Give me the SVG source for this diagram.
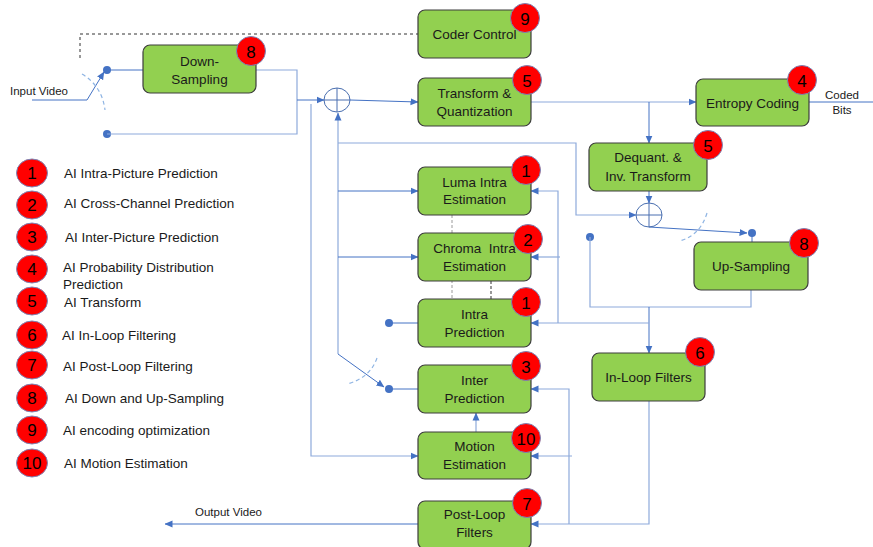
<svg xmlns="http://www.w3.org/2000/svg" width="873" height="547" viewBox="0 0 873 547">
<defs>
<marker id="arr" markerUnits="userSpaceOnUse" markerWidth="8" markerHeight="8" viewBox="0 0 8 8" refX="7.5" refY="4" orient="auto">
<path d="M0,0.5 L8,4 L0,7.5 Z" fill="#4472C4"/>
</marker>
</defs>
<style>
.box{fill:#92D050;stroke:#3d3d3d;stroke-width:1.2}
.badge{fill:#FF0000;stroke:#7a86b8;stroke-width:1}
.bt{font-family:"Liberation Sans",Arial,sans-serif;font-size:17px;fill:#000;text-anchor:middle}
.t{font-family:"Liberation Sans",Arial,sans-serif;font-size:13.5px;fill:#1a1a1a;text-anchor:middle}
.lg{font-family:"Liberation Sans",Arial,sans-serif;font-size:13.5px;fill:#1a1a1a}
.sm{font-family:"Liberation Sans",Arial,sans-serif;font-size:11.5px;fill:#1a1a1a}
.c{fill:none;stroke:#4472C4;stroke-width:1}
.cl{fill:none;stroke:#8eaadb;stroke-width:1.2}
.arc{fill:none;stroke:#8eb4e3;stroke-width:1.2;stroke-dasharray:4,3}
.dot{fill:#4472C4}
</style>
<rect width="873" height="547" fill="#fff"/>

<g id="connectors">
<path d="M80,58 V34 H418" fill="none" stroke="#333" stroke-width="1" stroke-dasharray="3,3"/>
<path class="c" d="M32,100 H87 L104,72" marker-end="url(#arr)"/>
<path class="arc" d="M82,74 Q102,86 105,110"/>
<circle class="dot" cx="107" cy="70" r="4"/>
<circle class="dot" cx="107" cy="134" r="4"/>
<path class="c" d="M107,70 H143"/>
<path class="cl" d="M107,134 H297 V70 H256"/>
<path class="c" d="M297,100 H324" marker-end="url(#arr)"/>
<path class="c" d="M350,100 L418,102" marker-end="url(#arr)"/>
<path class="cl" d="M338,354 V113" marker-end="url(#arr)"/>
<path class="cl" d="M338,143 H576 V215 H636" marker-end="url(#arr)"/>
<path class="c" d="M338,191 H418" marker-end="url(#arr)"/>
<path class="c" d="M338,257 H418" marker-end="url(#arr)"/>
<path class="c" d="M338,354 L384,387" marker-end="url(#arr)"/>
<path class="arc" d="M377,358 Q370,378 347,384"/>
<circle class="dot" cx="389" cy="389" r="4"/>
<path class="c" d="M389,389 H418"/>
<circle class="dot" cx="389" cy="323" r="4"/>
<path class="c" d="M389,323 H418"/>
<path class="cl" d="M311,104 V456 H418" marker-end="url(#arr)"/>
<path class="cl" d="M531,102 H696" marker-end="url(#arr)"/>
<path class="c" d="M649,102 V143" marker-end="url(#arr)"/>
<path class="c" d="M809,102 H873"/>
<path class="c" d="M649,191 V203" marker-end="url(#arr)"/>
<path class="c" d="M649,227 L747,233" marker-end="url(#arr)"/>
<path class="arc" d="M707,213 Q700,236 679,241"/>
<circle class="dot" cx="752" cy="233" r="4"/>
<path class="c" d="M752,233 V242"/>
<circle class="dot" cx="590" cy="237" r="4"/>
<path class="cl" d="M590,237 V307 H751 V290"/>
<path class="c" d="M649,307 V353" marker-end="url(#arr)"/>
<path class="cl" d="M649,323 H531" marker-end="url(#arr)"/>
<path class="cl" d="M558,323 V191 H531" marker-end="url(#arr)"/>
<path class="cl" d="M560,257 H531" marker-end="url(#arr)"/>
<path class="cl" d="M649,400 V524 H531" marker-end="url(#arr)"/>
<path class="cl" d="M569,524 V389 H531" marker-end="url(#arr)"/>
<path class="cl" d="M572,456 H531" marker-end="url(#arr)"/>
<path class="cl" d="M476,432 V413" marker-end="url(#arr)"/>
<path class="c" d="M418,524 H165" marker-end="url(#arr)"/>
</g>

<g id="adder1"><ellipse cx="337" cy="100" rx="13" ry="12" fill="none" stroke="#4a6fb0" stroke-width="1"/><path d="M324,100 H350 M337,88 V112" stroke="#4a6fb0" stroke-width="1"/></g>
<g id="adder2"><ellipse cx="649" cy="215" rx="13" ry="12" fill="none" stroke="#4a6fb0" stroke-width="1"/><path d="M636,215 H662 M649,203 V227" stroke="#4a6fb0" stroke-width="1"/></g>

<g id="texts-io">
<text class="sm" x="10" y="95">Input Video</text>
<text class="sm" x="842" y="99" text-anchor="middle">Coded</text>
<text class="sm" x="842" y="114" text-anchor="middle">Bits</text>
<text class="sm" x="195" y="516">Output Video</text>
</g>

<g id="intra-links">
<path d="M452,215 V299" stroke="#9a9a9a" stroke-width="1" stroke-dasharray="3,2"/>
<path d="M491,281 V299" stroke="#555" stroke-width="1.2" stroke-dasharray="3,2"/>
</g>

<g id="down-sampling"><rect class="box" x="143" y="45" width="113" height="48" rx="7"/><text class="t" x="199.5" y="66">Down-</text><text class="t" x="199.5" y="84">Sampling</text><circle class="badge" cx="251" cy="51" r="14.5"/><text class="bt" x="251" y="57.5">8</text></g>
<g id="coder-control"><rect class="box" x="418" y="10" width="113" height="48" rx="7"/><text class="t" x="474.5" y="39">Coder Control</text><circle class="badge" cx="525" cy="18" r="14.5"/><text class="bt" x="525" y="24.5">9</text></g>
<g id="transform"><rect class="box" x="418" y="78" width="113" height="48" rx="7"/><text class="t" x="474.5" y="98">Transform &amp;</text><text class="t" x="474.5" y="116">Quantization</text><circle class="badge" cx="527" cy="80" r="14.5"/><text class="bt" x="527" y="86.5">5</text></g>
<g id="entropy"><rect class="box" x="696" y="79" width="113" height="47" rx="7"/><text class="t" x="752.5" y="107.5">Entropy Coding</text><circle class="badge" cx="802" cy="80" r="14.5"/><text class="bt" x="802" y="86.5">4</text></g>
<g id="dequant"><rect class="box" x="589" y="143" width="118" height="48" rx="7"/><text class="t" x="648" y="162">Dequant. &amp;</text><text class="t" x="648" y="181">Inv. Transform</text><circle class="badge" cx="708" cy="145" r="14.5"/><text class="bt" x="708" y="151.5">5</text></g>
<g id="up-sampling"><rect class="box" x="694" y="242" width="114" height="48" rx="7"/><text class="t" x="751" y="271">Up-Sampling</text><circle class="badge" cx="804" cy="243" r="14.5"/><text class="bt" x="804" y="249.5">8</text></g>
<g id="in-loop"><rect class="box" x="592" y="353" width="113" height="48" rx="7"/><text class="t" x="648.5" y="382">In-Loop Filters</text><circle class="badge" cx="700" cy="352" r="14.5"/><text class="bt" x="700" y="358.5">6</text></g>
<g id="luma"><rect class="box" x="418" y="167" width="113" height="48" rx="7"/><text class="t" x="474.5" y="187">Luma Intra</text><text class="t" x="474.5" y="204">Estimation</text><circle class="badge" cx="526" cy="170" r="14.5"/><text class="bt" x="526" y="176.5">1</text></g>
<g id="chroma"><rect class="box" x="418" y="233" width="113" height="48" rx="7"/><text class="t" x="474.5" y="253" xml:space="preserve">Chroma  Intra</text><text class="t" x="474.5" y="271">Estimation</text><circle class="badge" cx="528" cy="239" r="14.5"/><text class="bt" x="528" y="245.5">2</text></g>
<g id="intra-pred"><rect class="box" x="418" y="299" width="113" height="48" rx="7"/><text class="t" x="474.5" y="319">Intra</text><text class="t" x="474.5" y="337">Prediction</text><circle class="badge" cx="526" cy="302" r="14.5"/><text class="bt" x="526" y="308.5">1</text></g>
<g id="inter-pred"><rect class="box" x="418" y="365" width="113" height="48" rx="7"/><text class="t" x="474.5" y="385">Inter</text><text class="t" x="474.5" y="403">Prediction</text><circle class="badge" cx="526" cy="366" r="14.5"/><text class="bt" x="526" y="372.5">3</text></g>
<g id="motion"><rect class="box" x="418" y="432" width="113" height="47" rx="7"/><text class="t" x="474.5" y="451">Motion</text><text class="t" x="474.5" y="469">Estimation</text><circle class="badge" cx="526" cy="438" r="14.5"/><text class="bt" x="526" y="444.5">10</text></g>
<g id="post-loop"><rect class="box" x="418" y="501" width="113" height="48" rx="7"/><text class="t" x="474.5" y="519">Post-Loop</text><text class="t" x="474.5" y="537">Filters</text><circle class="badge" cx="527" cy="503" r="14.5"/><text class="bt" x="527" y="509.5">7</text></g>

<g id="legend">
<ellipse class="badge" cx="32" cy="173" rx="15.5" ry="14"/><text class="bt" x="32" y="179">1</text><text class="lg" x="64" y="177.5">AI Intra-Picture Prediction</text>
<ellipse class="badge" cx="32" cy="205" rx="15.5" ry="14"/><text class="bt" x="32" y="211">2</text><text class="lg" x="64" y="207.5">AI Cross-Channel Prediction</text>
<ellipse class="badge" cx="32" cy="237" rx="15.5" ry="14"/><text class="bt" x="32" y="243">3</text><text class="lg" x="65" y="241.5">AI Inter-Picture Prediction</text>
<ellipse class="badge" cx="32" cy="269" rx="15.5" ry="14"/><text class="bt" x="32" y="275">4</text><text class="lg" x="63" y="271.5">AI Probability Distribution</text><text class="lg" x="63" y="289">Prediction</text>
<ellipse class="badge" cx="32" cy="301" rx="15.5" ry="14"/><text class="bt" x="32" y="307">5</text><text class="lg" x="64" y="306.5">AI Transform</text>
<ellipse class="badge" cx="32" cy="335" rx="15.5" ry="14"/><text class="bt" x="32" y="341">6</text><text class="lg" x="62" y="339.5">AI In-Loop Filtering</text>
<ellipse class="badge" cx="32" cy="365" rx="15.5" ry="14"/><text class="bt" x="32" y="371">7</text><text class="lg" x="63" y="370.5">AI Post-Loop Filtering</text>
<ellipse class="badge" cx="32" cy="398" rx="15.5" ry="14"/><text class="bt" x="32" y="404">8</text><text class="lg" x="65" y="402.5">AI Down and Up-Sampling</text>
<ellipse class="badge" cx="32" cy="430" rx="15.5" ry="14"/><text class="bt" x="32" y="436">9</text><text class="lg" x="63" y="434.5">AI encoding optimization</text>
<ellipse class="badge" cx="32" cy="463" rx="15.5" ry="14"/><text class="bt" x="32" y="469">10</text><text class="lg" x="64" y="467.5">AI Motion Estimation</text>
</g>
</svg>
